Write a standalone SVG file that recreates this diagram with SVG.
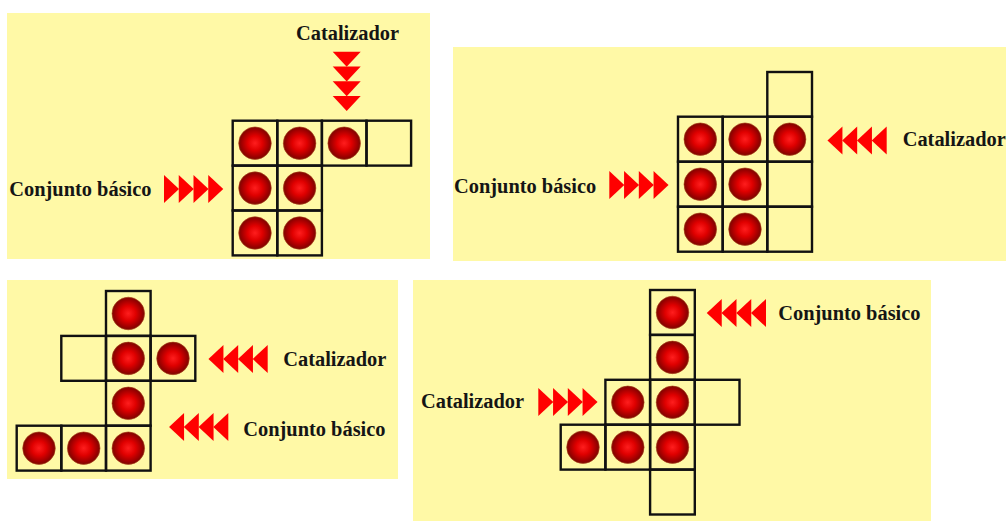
<svg xmlns="http://www.w3.org/2000/svg" xmlns:xlink="http://www.w3.org/1999/xlink" width="1006" height="523" viewBox="0 0 1006 523">
  <style>
    .panel { fill: #fff9a6; }
    .cell { fill: none; stroke: #111; stroke-width: 2.4; }
    .ball { fill: url(#ballGrad); stroke: #b0401a; stroke-width: 0.6; }
    .lbl { font-family: "Liberation Serif", "Times New Roman", serif; font-weight: bold; font-size: 20.4px; fill: #151515; }
    .tri { fill: #ff0000; }
  </style>
  <defs>
    <radialGradient id="ballGrad" cx="50%" cy="50%" r="50%">
      <stop offset="0" stop-color="#ff1e1e"/>
      <stop offset="0.45" stop-color="#e00000"/>
      <stop offset="0.85" stop-color="#9a0000"/>
      <stop offset="1" stop-color="#780a00"/>
    </radialGradient>
    <!-- four chained triangles pointing along +x, centred on y=0 -->
    <g id="arrow4" class="tri">
      <polygon points="0,-14 15,0 0,14"/>
      <polygon points="14.75,-14 29.75,0 14.75,14"/>
      <polygon points="29.5,-14 44.5,0 29.5,14"/>
      <polygon points="44.25,-14 59.25,0 44.25,14"/>
    </g>
    <circle id="ball" r="16.3"/>
  </defs>

  <rect width="1006" height="523" fill="#ffffff"/>

  <!-- panel 1 -->
  <g id="panel1">
    <rect class="panel" x="7" y="13" width="423" height="246"/>
    <g class="cells">
      <rect class="cell" x="232.7" y="120.7" width="44.6" height="44.9"/>
      <rect class="cell" x="277.3" y="120.7" width="44.6" height="44.9"/>
      <rect class="cell" x="321.9" y="120.7" width="44.6" height="44.9"/>
      <rect class="cell" x="366.5" y="120.7" width="44.6" height="44.9"/>
      <rect class="cell" x="232.7" y="165.6" width="44.6" height="44.9"/>
      <rect class="cell" x="277.3" y="165.6" width="44.6" height="44.9"/>
      <rect class="cell" x="232.7" y="210.5" width="44.6" height="44.9"/>
      <rect class="cell" x="277.3" y="210.5" width="44.6" height="44.9"/>
    </g>
    <g class="balls">
      <use href="#ball" class="ball" x="255" y="143.2"/>
      <use href="#ball" class="ball" x="299.6" y="143.2"/>
      <use href="#ball" class="ball" x="344.2" y="143.2"/>
      <use href="#ball" class="ball" x="255" y="188.1"/>
      <use href="#ball" class="ball" x="299.6" y="188.1"/>
      <use href="#ball" class="ball" x="255" y="233"/>
      <use href="#ball" class="ball" x="299.6" y="233"/>
    </g>
    <text class="lbl" x="296" y="40">Catalizador</text>
    <text class="lbl" x="9.3" y="195.7">Conjunto básico</text>
  </g>

  <!-- panel 2 -->
  <g id="panel2">
    <rect class="panel" x="453" y="47" width="553" height="214"/>
    <g class="cells">
      <rect class="cell" x="767.3" y="72" width="44.7" height="44.7"/>
      <rect class="cell" x="678" y="116.7" width="44.7" height="45"/>
      <rect class="cell" x="722.7" y="116.7" width="44.6" height="45"/>
      <rect class="cell" x="767.3" y="116.7" width="44.7" height="45"/>
      <rect class="cell" x="678" y="161.7" width="44.7" height="45"/>
      <rect class="cell" x="722.7" y="161.7" width="44.6" height="45"/>
      <rect class="cell" x="767.3" y="161.7" width="44.7" height="45"/>
      <rect class="cell" x="678" y="206.7" width="44.7" height="45"/>
      <rect class="cell" x="722.7" y="206.7" width="44.6" height="45"/>
      <rect class="cell" x="767.3" y="206.7" width="44.7" height="45"/>
    </g>
    <g class="balls">
      <use href="#ball" class="ball" x="700.3" y="139.2"/>
      <use href="#ball" class="ball" x="745" y="139.2"/>
      <use href="#ball" class="ball" x="789.6" y="139.2"/>
      <use href="#ball" class="ball" x="700.3" y="184.2"/>
      <use href="#ball" class="ball" x="745" y="184.2"/>
      <use href="#ball" class="ball" x="700.3" y="229.2"/>
      <use href="#ball" class="ball" x="745" y="229.2"/>
    </g>
    <text class="lbl" x="454" y="192.7">Conjunto básico</text>
    <text class="lbl" x="902.7" y="146">Catalizador</text>
  </g>

  <!-- panel 3 -->
  <g id="panel3">
    <rect class="panel" x="7" y="280" width="391" height="199"/>
    <g class="cells">
      <rect class="cell" x="106" y="291" width="44.6" height="44.9"/>
      <rect class="cell" x="61.3" y="335.9" width="44.7" height="44.9"/>
      <rect class="cell" x="106" y="335.9" width="44.6" height="44.9"/>
      <rect class="cell" x="150.6" y="335.9" width="44.7" height="44.9"/>
      <rect class="cell" x="106" y="380.8" width="44.6" height="44.9"/>
      <rect class="cell" x="16.7" y="425.7" width="44.6" height="44.9"/>
      <rect class="cell" x="61.3" y="425.7" width="44.7" height="44.9"/>
      <rect class="cell" x="106" y="425.7" width="44.6" height="44.9"/>
    </g>
    <g class="balls">
      <use href="#ball" class="ball" x="128.3" y="313.5"/>
      <use href="#ball" class="ball" x="128.3" y="358.4"/>
      <use href="#ball" class="ball" x="173" y="358.4"/>
      <use href="#ball" class="ball" x="128.3" y="403.3"/>
      <use href="#ball" class="ball" x="39" y="448.2"/>
      <use href="#ball" class="ball" x="83.7" y="448.2"/>
      <use href="#ball" class="ball" x="128.3" y="448.2"/>
    </g>
    <text class="lbl" x="283.3" y="365.7">Catalizador</text>
    <text class="lbl" x="243.3" y="435.7">Conjunto básico</text>
  </g>

  <!-- panel 4 -->
  <g id="panel4">
    <rect class="panel" x="413" y="280" width="518" height="241"/>
    <g class="cells">
      <rect class="cell" x="650.1" y="290" width="44.7" height="44.9"/>
      <rect class="cell" x="650.1" y="334.9" width="44.7" height="44.9"/>
      <rect class="cell" x="605.4" y="379.8" width="44.7" height="44.9"/>
      <rect class="cell" x="650.1" y="379.8" width="44.7" height="44.9"/>
      <rect class="cell" x="694.8" y="379.8" width="44.7" height="44.9"/>
      <rect class="cell" x="560.7" y="424.7" width="44.7" height="44.9"/>
      <rect class="cell" x="605.4" y="424.7" width="44.7" height="44.9"/>
      <rect class="cell" x="650.1" y="424.7" width="44.7" height="44.9"/>
      <rect class="cell" x="650.1" y="469.6" width="44.7" height="44.9"/>
    </g>
    <g class="balls">
      <use href="#ball" class="ball" x="672.5" y="312.5"/>
      <use href="#ball" class="ball" x="672.5" y="357.4"/>
      <use href="#ball" class="ball" x="627.8" y="402.3"/>
      <use href="#ball" class="ball" x="672.5" y="402.3"/>
      <use href="#ball" class="ball" x="583" y="447.2"/>
      <use href="#ball" class="ball" x="627.8" y="447.2"/>
      <use href="#ball" class="ball" x="672.5" y="447.2"/>
    </g>
    <text class="lbl" x="421" y="408.3">Catalizador</text>
    <text class="lbl" x="778.3" y="320">Conjunto básico</text>
  </g>

  <!-- red feed arrows -->
  <g id="connectors">
    <use href="#arrow4" transform="translate(346.7,51.7) rotate(90)"/>
    <use href="#arrow4" transform="translate(164,189)"/>
    <use href="#arrow4" transform="translate(609.3,185)"/>
    <use href="#arrow4" transform="translate(886.7,140.5) scale(-1,1)"/>
    <use href="#arrow4" transform="translate(267.7,359) scale(-1,1)"/>
    <use href="#arrow4" transform="translate(228.3,427) scale(-1,1)"/>
    <use href="#arrow4" transform="translate(538.3,402)"/>
    <use href="#arrow4" transform="translate(766,313) scale(-1,1)"/>
  </g>
</svg>
